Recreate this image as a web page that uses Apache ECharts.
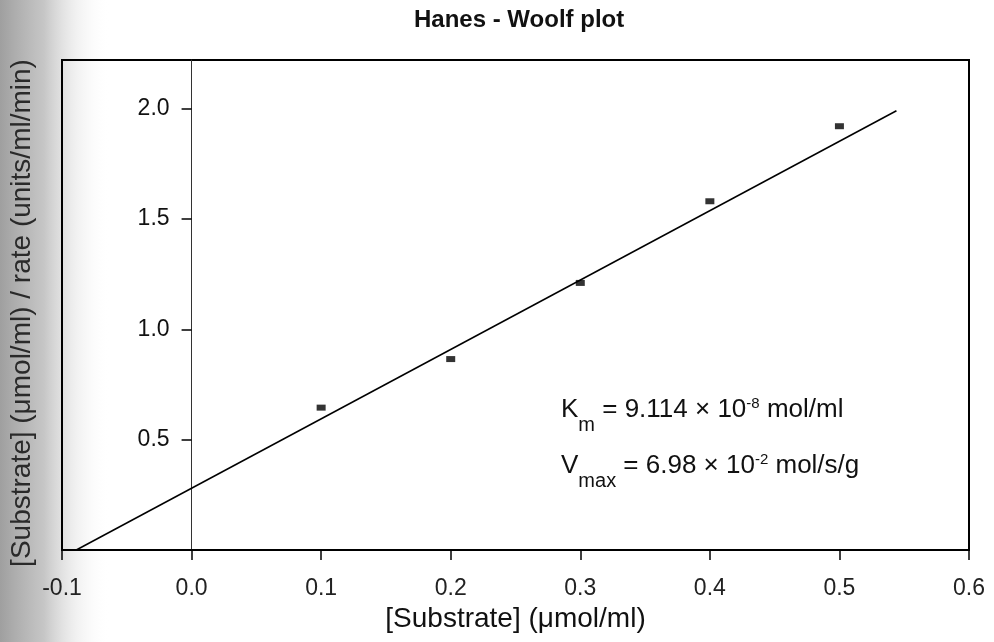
<!DOCTYPE html>
<html lang="en">
<head>
	<meta charset="UTF-8">
	<title>Hanes - Woolf plot</title>
	<style>
		html, body{
			margin: 0;
			padding: 0;
			background: #fff;
		}
		#main{
			width: 994px;
			height: 642px;
		}
	</style>
	<script src="https://cdn.jsdelivr.net/npm/echarts@6.0.0/dist/echarts.min.js"></script>
</head>
<body>
	<div id="main"></div>
	<script>
		// measured points: [S] and [S]/v
		var substrate = [0.1, 0.2, 0.3, 0.4, 0.5];
		var ratio = [0.645, 0.865, 1.21, 1.58, 1.92];

		// fitted line, end points as drawn
		var fitX = [-0.089, 0.544];
		var fitY = [0, 1.99];

		// axis ranges
		var xMin = -0.1, xMax = 0.6, xStep = 0.1;
		var yMin = 0, yMax = 2.22, yStep = 0.5;

		var font = 'Liberation Sans';
		var gridLeft = 62, gridRight = 25;

		var points = substrate.map(function(x, i){ return [x, ratio[i]]; });
		var fit = fitX.map(function(x, i){ return [x, fitY[i]]; });

		var chart = echarts.init(document.getElementById('main'));

		// y axis sits on x = 0, shift it in from the grid edge
		var plotW = 994 - gridLeft - gridRight;
		var yAxisShift = (0 - xMin) / (xMax - xMin) * plotW;

		var option = {
			backgroundColor: '#fff',
			animation: false,
			title: {
				text: 'Hanes - Woolf plot',
				left: 409,
				top: 3,
				textStyle: {
					fontFamily: font,
					fontSize: 24,
					fontWeight: 'bold',
					color: '#111'
				}
			},
			grid: {
				left: gridLeft,
				right: gridRight,
				top: 60,
				bottom: 92,
				show: true,
				borderColor: '#000',
				borderWidth: 2,
				backgroundColor: 'transparent',
				outerBoundsMode: 'none'
			},
			xAxis: {
				type: 'value',
				min: xMin,
				max: xMax,
				interval: xStep,
				name: '[Substrate] (\u03bcmol/ml)',
				nameLocation: 'middle',
				nameGap: 46,
				nameTextStyle: {
					fontFamily: font,
					fontSize: 28,
					color: '#111'
				},
				axisLine: { onZero: false, lineStyle: { color: '#000', width: 2 } },
				axisTick: { show: true, inside: false, length: 10, lineStyle: { color: '#000', width: 1.5 } },
				axisLabel: {
					margin: 27,
					fontFamily: font,
					fontSize: 23,
					color: '#222',
					formatter: function(v){ return v.toFixed(1); }
				},
				splitLine: { show: false }
			},
			yAxis: {
				type: 'value',
				min: yMin,
				max: yMax,
				interval: yStep,
				offset: -yAxisShift,
				axisLine: { show: true, onZero: false, lineStyle: { color: '#333', width: 1 } },
				axisTick: { show: true, inside: false, length: 10, lineStyle: { color: '#000', width: 1.5 } },
				axisLabel: {
					margin: 22,
					fontFamily: font,
					fontSize: 23,
					color: '#111',
					showMinLabel: false,
					showMaxLabel: false,
					formatter: function(v){ return v.toFixed(1); }
				},
				splitLine: { show: false }
			},
			graphic: [
				{
					// grey edge from the scanned page
					type: 'rect',
					z: -10,
					silent: true,
					shape: { x: 0, y: 0, width: 110, height: 642 },
					style: {
						fill: new echarts.graphic.LinearGradient(0, 0, 1, 0, [
							{ offset: 0, color: 'rgba(135,135,135,0.8)' },
							{ offset: 0.4, color: 'rgba(160,160,160,0.6)' },
							{ offset: 0.7, color: 'rgba(210,210,210,0.3)' },
							{ offset: 1, color: 'rgba(255,255,255,0)' }
						])
					}
				},
				{
					type: 'text',
					x: 22,
					y: 313,
					rotation: Math.PI / 2,
					style: {
						text: '[Substrate] (\u03bcmol/ml) / rate (units/ml/min)',
						fontFamily: font,
						fontSize: 28,
						fill: '#2a2a2a',
						align: 'center',
						verticalAlign: 'middle'
					}
				},
				{
					type: 'text',
					x: 561,
					y: 410,
					style: {
						text: '{a|K}{sub|m}{a| = 9.114 \u00d7 10}{sup|-8}{a| mol/ml}',
						verticalAlign: 'middle',
						rich: {
							a: { fontFamily: font, fontSize: 26, fill: '#111' },
							sub: { fontFamily: font, fontSize: 20, fill: '#111', padding: [30, 0, 0, 0] },
							sup: { fontFamily: font, fontSize: 15, fill: '#111', padding: [0, 0, 12, 0] }
						}
					}
				},
				{
					type: 'text',
					x: 561,
					y: 466,
					style: {
						text: '{a|V}{sub|max}{a| = 6.98 \u00d7 10}{sup|-2}{a| mol/s/g}',
						verticalAlign: 'middle',
						rich: {
							a: { fontFamily: font, fontSize: 26, fill: '#111' },
							sub: { fontFamily: font, fontSize: 20, fill: '#111', padding: [30, 0, 0, 0] },
							sup: { fontFamily: font, fontSize: 15, fill: '#111', padding: [0, 0, 12, 0] }
						}
					}
				}
			],
			series: [
				{
					name: 'fit',
					type: 'line',
					data: fit,
					showSymbol: false,
					symbol: 'none',
					lineStyle: { color: '#000', width: 1.5 },
					z: 2
				},
				{
					name: 'data',
					type: 'scatter',
					data: points,
					symbol: 'rect',
					symbolSize: [9, 6],
					itemStyle: { color: '#000' },
					z: 3
				}
			]
		};

		chart.setOption(option);
	</script>
</body>
</html>
